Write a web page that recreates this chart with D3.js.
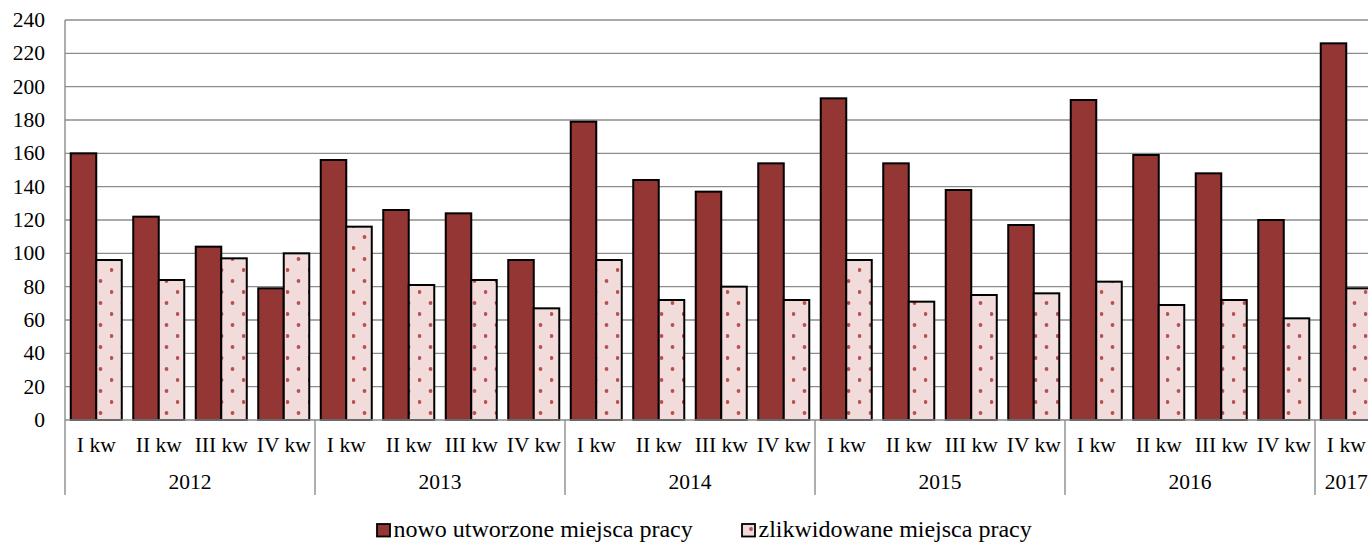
<!DOCTYPE html>
<html><head><meta charset="utf-8">
<script src="https://cdn.jsdelivr.net/npm/d3@7"></script>
<style>body{margin:0;background:#fff;} svg text{font-family:'Liberation Serif','Times New Roman',Tinos,'DejaVu Serif',serif;}</style>
</head><body>
<svg id="c" width="1368" height="543"></svg>
<script>
const years = ["2012","2013","2014","2015","2016","2017"];
const quarters = ["I kw","II kw","III kw","IV kw"];
const categories = [
 "2012 I","2012 II","2012 III","2012 IV",
 "2013 I","2013 II","2013 III","2013 IV",
 "2014 I","2014 II","2014 III","2014 IV",
 "2015 I","2015 II","2015 III","2015 IV",
 "2016 I","2016 II","2016 III","2016 IV",
 "2017 I"];
const newJobs = [160,122,104,79, 156,126,124,96, 179,144,137,154, 193,154,138,117, 192,159,148,120, 226];
const lostJobs = [96,84,97,100, 116,81,84,67, 96,72,80,72, 96,71,75,76, 83,69,72,61, 79];
const seriesNames = ["nowo utworzone miejsca pracy","zlikwidowane miejsca pracy"];
const yTicks = [0,20,40,60,80,100,120,140,160,180,200,220,240];

(function(){
const svg = d3.select("#c");
const FS = 21.5, LFS = 24;
const pLeft = 65, pTop = 20, pBottom = 420, qW = 62.5;
const x0 = d3.scaleBand().domain(categories).range([pLeft, pLeft + qW*categories.length]).paddingInner(0).paddingOuter(0);
const x1 = d3.scaleBand().domain(["n","l"]).range([0, x0.bandwidth()]).paddingInner(0).paddingOuter(0.225);
const y = d3.scaleLinear().domain([0,240]).range([pBottom, pTop]);

const defs = svg.append("defs");
const pat = defs.append("pattern").attr("id","dots").attr("patternUnits","userSpaceOnUse")
  .attr("width",22).attr("height",22).attr("x",0).attr("y",4);
pat.append("rect").attr("width",22).attr("height",22).attr("fill","#f2dcdb");
pat.append("circle").attr("cx",1.5).attr("cy",2).attr("r",1.9).attr("fill","#b9504e");
pat.append("circle").attr("cx",12.5).attr("cy",13).attr("r",1.9).attr("fill","#b9504e");
const pat2 = defs.append("pattern").attr("id","dotsLeg").attr("patternUnits","userSpaceOnUse")
  .attr("width",22).attr("height",22).attr("x",742).attr("y",524);
pat2.append("rect").attr("width",22).attr("height",22).attr("fill","#f2dcdb");
pat2.append("circle").attr("cx",9).attr("cy",5).attr("r",1.9).attr("fill","#b9504e");

svg.append("g").selectAll("line").data(yTicks.filter(d=>d>0)).join("line")
  .attr("x1", pLeft).attr("x2", 1368).attr("y1", d=>y(d)).attr("y2", d=>y(d))
  .attr("stroke","#8c8c8c").attr("stroke-width",1.4);

svg.append("g").selectAll("text").data(yTicks).join("text")
  .attr("x", 45).attr("y", d=>y(d)+7).attr("text-anchor","end")
  .attr("font-size",FS).attr("fill","#000").text(d=>d);

const g = svg.append("g");
categories.forEach((c,i)=>{
  g.append("rect").attr("x", x0(c)+x1("n")).attr("y", y(newJobs[i]))
   .attr("width", x1.bandwidth()).attr("height", y(0)-y(newJobs[i]))
   .attr("fill","#943634").attr("stroke","#000").attr("stroke-width",2);
  g.append("rect").attr("x", x0(c)+x1("l")).attr("y", y(lostJobs[i]))
   .attr("width", x1.bandwidth()).attr("height", y(0)-y(lostJobs[i]))
   .attr("fill","url(#dots)").attr("stroke","#000").attr("stroke-width",2);
});

svg.append("line").attr("x1",pLeft).attr("x2",1368).attr("y1",pBottom).attr("y2",pBottom)
  .attr("stroke","#8c8c8c").attr("stroke-width",1.4);
svg.append("line").attr("x1",pLeft).attr("x2",pLeft).attr("y1",pTop).attr("y2",495)
  .attr("stroke","#8c8c8c").attr("stroke-width",1.4);
years.forEach((yr,k)=>{
  const xs = x0(yr+" I");
  if(k>0) svg.append("line").attr("x1",xs).attr("x2",xs).attr("y1",pBottom).attr("y2",495)
    .attr("stroke","#8c8c8c").attr("stroke-width",1.4);
  const cats = categories.filter(c=>c.startsWith(yr));
  const xe = x0(cats[cats.length-1]) + x0.bandwidth();
  svg.append("text").attr("x",(xs+xe)/2).attr("y",489).attr("text-anchor","middle")
    .attr("font-size",FS).text(yr);
});
svg.append("g").selectAll("text").data(categories).join("text")
  .attr("x", d=>x0(d)+x0.bandwidth()/2).attr("y", 452).attr("text-anchor","middle")
  .attr("font-size",FS).text((d,i)=>quarters[i%4]);

const leg = svg.append("g");
const legItems = [{x:377, fill:"#943634", name:seriesNames[0]},{x:742, fill:"url(#dotsLeg)", name:seriesNames[1]}];
legItems.forEach(it=>{
  leg.append("rect").attr("x",it.x).attr("y",524).attr("width",13).attr("height",12.5)
    .attr("fill",it.fill).attr("stroke","#000").attr("stroke-width",1.8);
  leg.append("text").attr("x",it.x+16.5).attr("y",537).attr("font-size",LFS).text(it.name);
});
})();
</script>
</body></html>
